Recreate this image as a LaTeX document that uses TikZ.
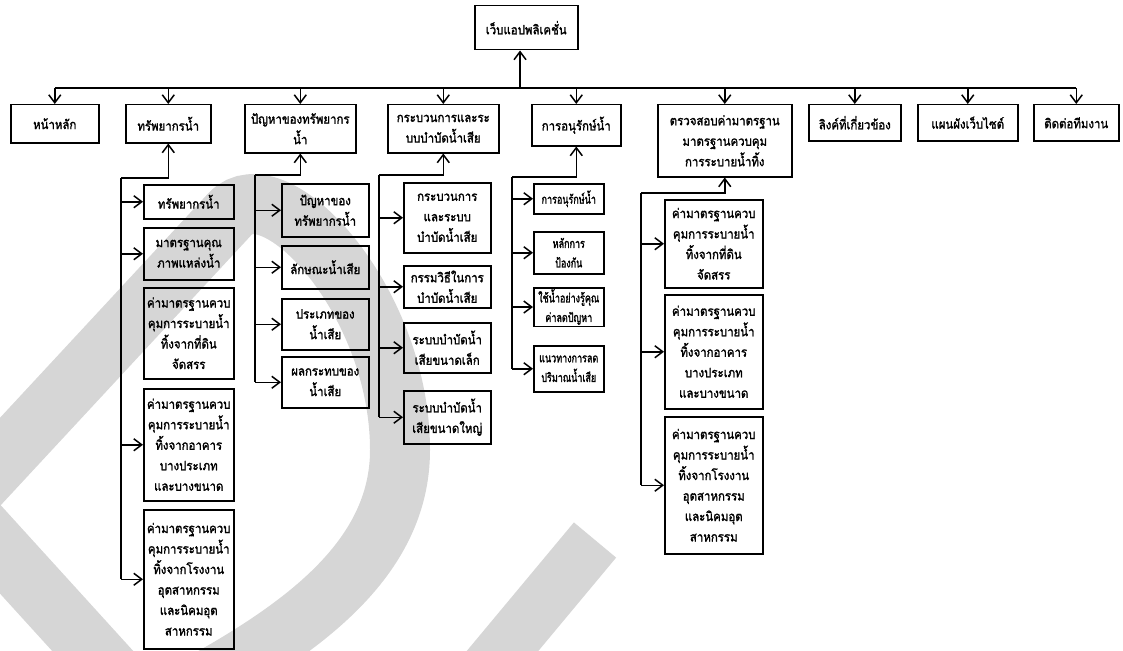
\documentclass[tikz,border=0pt]{standalone}
\usepackage{fontspec}
\setmainfont[Script=Thai]{Loma}
\newfontfamily\thaiheavy[Script=Thai,FakeBold=1.6,FakeStretch=0.88]{Loma}
\newfontfamily\thaicond[Script=Thai,FakeBold=1.6,FakeStretch=0.72]{Loma}
\usetikzlibrary{arrows.meta}
\tikzset{
  box/.style={draw, line width=1.5pt, align=center, inner sep=1.5pt,
    font=\thaiheavy\fontsize{13}{20.5}\selectfont},
  narrow/.style={font=\thaicond\fontsize{12.5}{19.5}\selectfont},
  wire/.style={line width=1.5pt},
  arr/.style={wire, -{Straight Barb[length=8pt,width=12pt]}},
  logostroke/.style={draw=black!16, line width=60pt, line join=miter},
}
% \boxat[extra]{name}{left}{top}{width}{height}{text}
\newcommand\boxat[7][]{\node[box, #1, anchor=north west, minimum width=#5pt,
  minimum height=#6pt] (#2) at (#3,#4) {#7};}

\begin{document}
\begin{tikzpicture}[x=1pt,y=-1pt]
\useasboundingbox (0,0) rectangle (1123,650);

% faint background logo
\begin{scope}
\clip (0,0) rectangle (1123,650);
\draw[logostroke] (130,692) -- (-40,505) -- (230,214)
  .. controls (275,166) and (400,300) .. (400,450)
  .. controls (400,560) and (300,630) .. (190,690);
\draw[logostroke, line width=55pt] (470,690) -- (595,540);
\end{scope}

% root
\boxat{web}{474}{5}{103}{44}{เว็บแอปพลิเคชั่น}

% first level
\boxat{home}{10}{104}{88}{38}{หน้าหลัก}
\boxat{water}{125}{104}{85}{38}{ทรัพยากรน้ำ}
\boxat{prob}{244}{104}{111}{48}{ปัญหาของทรัพยากร\\น้ำ}
\boxat{proc}{387}{104}{111}{48}{กระบวนการและระ\\บบบำบัดน้ำเสีย}
\boxat{cons}{531}{104}{89}{41}{การอนุรักษ์น้ำ}
\boxat{check}{657}{104}{134}{72}{ตรวจสอบค่ามาตรฐาน\\มาตรฐานควบคุม\\การระบายน้ำทิ้ง}
\boxat{links}{808}{104}{92}{36}{ลิงค์ที่เกี่ยวข้อง}
\boxat{map}{917}{104}{100}{36}{แผนผังเว็บไซต์}
\boxat{contact}{1033}{104}{85}{36}{ติดต่อทีมงาน}

% children of the water resources page
\boxat{c21}{143}{184}{90}{34}{ทรัพยากรน้ำ}
\boxat{c22}{143}{227}{90}{52}{มาตรฐานคุณ\\ภาพแหล่งน้ำ}
\boxat{c23}{143}{287}{90}{91}{ค่ามาตรฐานควบ\\คุมการระบายน้ำ\\ทิ้งจากที่ดิน\\จัดสรร}
\boxat{c24}{143}{388}{90}{112}{ค่ามาตรฐานควบ\\คุมการระบายน้ำ\\ทิ้งจากอาคาร\\บางประเภท\\และบางขนาด}
\boxat{c25}{143}{509}{90}{139}{ค่ามาตรฐานควบ\\คุมการระบายน้ำ\\ทิ้งจากโรงงาน\\อุตสาหกรรม\\และนิคมอุต\\สาหกรรม}

% children of the water problems page
\boxat{c31}{281}{183}{87}{53}{ปัญหาของ\\ทรัพยากรน้ำ}
\boxat{c32}{281}{245}{87}{43}{ลักษณะน้ำเสีย}
\boxat{c33}{281}{298}{87}{51}{ประเภทของ\\น้ำเสีย}
\boxat{c34}{281}{356}{87}{51}{ผลกระทบของ\\น้ำเสีย}

% children of the treatment page
\boxat{c41}{403}{182}{87}{70}{กระบวนการ\\และระบบ\\บำบัดน้ำเสีย}
\boxat{c42}{403}{265}{87}{42}{กรรมวิธีในการ\\บำบัดน้ำเสีย}
\boxat{c43}{403}{322}{87}{50}{ระบบบำบัดน้ำ\\เสียขนาดเล็ก}
\boxat{c44}{403}{390}{87}{53}{ระบบบำบัดน้ำ\\เสียขนาดใหญ่}

% children of the conservation page
\boxat[narrow]{c51}{533}{183}{70}{30}{การอนุรักษ์น้ำ}
\boxat[narrow]{c52}{533}{231}{70}{42}{หลักการ\\ป้องกัน}
\boxat[narrow]{c53}{533}{287}{70}{36}{ใช้น้ำอย่างรู้คุณ\\ค่าลดปัญหา}
\boxat[narrow]{c54}{533}{345}{70}{46}{แนวทางการลด\\ปริมาณน้ำเสีย}

% children of the standards page
\boxat{c61}{664}{199}{98}{88}{ค่ามาตรฐานควบ\\คุมการระบายน้ำ\\ทิ้งจากที่ดิน\\จัดสรร}
\boxat{c62}{664}{294}{98}{114}{ค่ามาตรฐานควบ\\คุมการระบายน้ำ\\ทิ้งจากอาคาร\\บางประเภท\\และบางขนาด}
\boxat{c63}{664}{416}{98}{137}{ค่ามาตรฐานควบ\\คุมการระบายน้ำ\\ทิ้งจากโรงงาน\\อุตสาหกรรม\\และนิคมอุต\\สาหกรรม}

% top bus
\coordinate (bus) at (0,88);
\coordinate (up) at (520,88);
\draw[wire] (bus -| home.north) -- (bus -| contact.north);
\draw[arr] (up) -- (up |- web.south);
\foreach \n in {home,water,prob,proc,cons,check,links,map,contact}
  \draw[arr] (bus -| \n.north) -- (\n.north);

% column spines
\coordinate (s2) at (121,178);
\draw[arr] (s2) -- (s2 -| water.south) -- (water.south);
\draw[wire] (s2) -- (s2 |- c25.west);
\foreach \c in {c21,c22,c24,c25} \draw[arr] (s2 |- \c.west) -- (\c.west);

\coordinate (s3) at (255,175);
\draw[arr] (s3) -- (s3 -| prob.south) -- (prob.south);
\draw[wire] (s3) -- (s3 |- c34.west);
\foreach \c in {c31,c32,c33,c34} \draw[arr] (s3 |- \c.west) -- (\c.west);

\coordinate (s4) at (379,175);
\draw[arr] (s4) -- (s4 -| proc.south) -- (proc.south);
\draw[wire] (s4) -- (s4 |- c44.west);
\foreach \c in {c41,c42,c43,c44} \draw[arr] (s4 |- \c.west) -- (\c.west);

\coordinate (s5) at (512,177);
\draw[arr] (s5) -- (s5 -| cons.south) -- (cons.south);
\draw[wire] (s5) -- (s5 |- c54.west);
\foreach \c in {c51,c52,c53,c54} \draw[arr] (s5 |- \c.west) -- (\c.west);

\coordinate (s6) at (641,193);
\draw[arr] (s6) -- (s6 -| check.south) -- (check.south);
\draw[wire] (s6) -- (s6 |- c63.west);
\foreach \c in {c61,c62,c63} \draw[arr] (s6 |- \c.west) -- (\c.west);
\end{tikzpicture}
\end{document}
